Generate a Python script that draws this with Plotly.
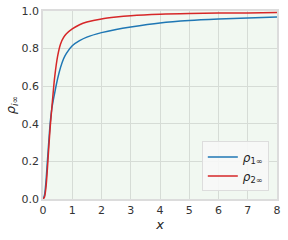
import plotly.graph_objects as go

x_vals = [0, 0.05, 0.1, 0.15, 0.2, 0.25, 0.3, 0.35, 0.4, 0.5, 0.6, 0.7, 0.8, 1.0, 1.25, 1.5, 2, 2.5, 3, 4, 5, 6, 7, 8]
rho1 = [0, 0.02, 0.09, 0.2, 0.31, 0.41, 0.48, 0.525, 0.565, 0.64, 0.70, 0.745, 0.775, 0.815, 0.842, 0.861, 0.885, 0.902, 0.915, 0.936, 0.949, 0.957, 0.963, 0.968]
rho2 = [0, 0.01, 0.06, 0.16, 0.28, 0.39, 0.48, 0.57, 0.65, 0.76, 0.825, 0.858, 0.879, 0.905, 0.927, 0.941, 0.958, 0.968, 0.975, 0.983, 0.987, 0.989, 0.99, 0.992]
x_ticks = [0, 1, 2, 3, 4, 5, 6, 7, 8]
y_ticks = [0.0, 0.2, 0.4, 0.6, 0.8, 1.0]
y_tick_text = ["0.0", "0.2", "0.4", "0.6", "0.8", "1.0"]

font = "DejaVu Sans"
fig = go.Figure()
fig.add_trace(go.Scatter(x=x_vals, y=rho1, mode="lines", line=dict(color="#1f77b4", width=1.5, shape="spline", smoothing=0.8),
                         name="<i>ρ</i><sub>1∞</sub>"))
fig.add_trace(go.Scatter(x=x_vals, y=rho2, mode="lines", line=dict(color="#d62728", width=1.5, shape="spline", smoothing=0.8),
                         name="<i>ρ</i><sub>2∞</sub>"))

axis_common = dict(showgrid=True, gridcolor="#d6dcd6", gridwidth=1, zeroline=False,
                   showline=True, linecolor="#dcdcdc", linewidth=1.5, mirror=True, automargin=False,
                   ticks="", tickfont=dict(family=font, size=11, color="#333333"))
fig.update_xaxes(range=[0, 8], tickvals=x_ticks,
                 title=dict(text="<i>x</i>", font=dict(family=font, size=13, color="#222222"), standoff=0), **axis_common)
fig.update_yaxes(range=[0, 1.0], tickvals=y_ticks, ticktext=y_tick_text,
                 title=dict(text="<i>ρ<sub>i∞</sub></i>", font=dict(family=font, size=13, color="#222222"), standoff=3), **axis_common)

fig.update_layout(
    width=288, height=240,
    margin=dict(l=43, r=11, t=11, b=41),
    paper_bgcolor="white", plot_bgcolor="#f1f8f1",
    showlegend=True,
    legend=dict(x=0.965, y=0.04, xanchor="right", yanchor="bottom", itemwidth=30,
                bgcolor="rgba(247,247,247,0.9)", bordercolor="#dddddd", borderwidth=1,
                tracegroupgap=0,
                font=dict(family=font, size=12, color="#222222")),
)
fig.write_html("out.html", config={"displayModeBar": False},
               post_script="document.body.style.margin='0px';")
